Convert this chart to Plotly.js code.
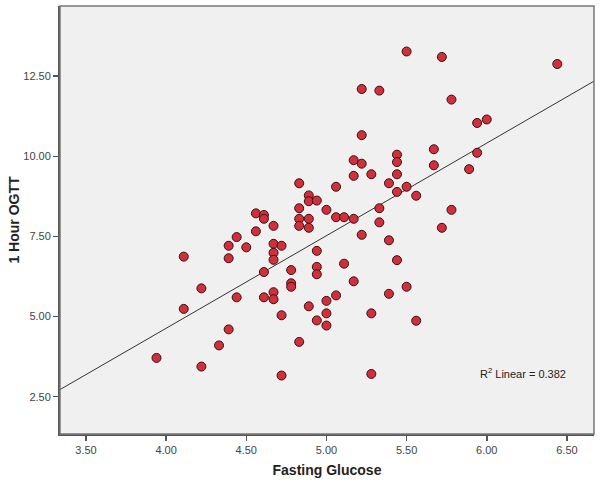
<!DOCTYPE html>
<html>
<head>
<meta charset="utf-8">
<script src="https://cdn.plot.ly/plotly-3.0.1.min.js"></script>
<style>html,body{margin:0;padding:0;background:#fff;}#chart{width:600px;height:486px;}</style>
</head>
<body>
<div id="chart"></div>
<script>
// Fasting glucose (mmol/L)
const fastingGlucose = [
  3.94, 4.11, 4.11, 4.22, 4.22, 4.33, 4.39, 4.39, 4.39, 4.44,
  4.44, 4.50, 4.56, 4.56, 4.61, 4.61, 4.61, 4.61, 4.67, 4.67,
  4.67, 4.67, 4.67, 4.67, 4.72, 4.72, 4.72, 4.78, 4.78, 4.78,
  4.83, 4.83, 4.83, 4.83, 4.83, 4.89, 4.89, 4.89, 4.89, 4.89,
  4.94, 4.94, 4.94, 4.94, 4.94, 5.00, 5.00, 5.00, 5.00, 5.06,
  5.06, 5.06, 5.11, 5.11, 5.17, 5.17, 5.17, 5.17, 5.22, 5.22,
  5.22, 5.22, 5.28, 5.28, 5.28, 5.33, 5.33, 5.33, 5.39, 5.39,
  5.39, 5.44, 5.44, 5.44, 5.44, 5.44, 5.50, 5.50, 5.50, 5.56,
  5.56, 5.67, 5.67, 5.72, 5.72, 5.78, 5.78, 5.89, 5.94, 5.94,
  6.00, 6.44
];
// 1 hour OGTT (mmol/L)
const ogtt1h = [
  3.71, 6.87, 5.24, 5.88, 3.44, 4.10, 4.60, 7.21, 6.82, 7.48,
  5.60, 7.16, 8.22, 7.66, 8.17, 8.05, 6.39, 5.60, 7.83, 7.27,
  6.99, 6.77, 5.76, 5.54, 7.21, 5.04, 3.16, 6.45, 6.04, 5.93,
  9.16, 8.38, 8.05, 7.83, 4.21, 8.78, 8.60, 8.05, 7.77, 5.32,
  8.62, 7.05, 6.55, 6.32, 4.88, 8.33, 5.49, 5.10, 4.72, 9.05,
  8.10, 5.66, 8.10, 6.65, 9.88, 9.39, 8.05, 6.10, 12.10, 10.66,
  9.77, 7.55, 9.44, 5.10, 3.21, 12.05, 8.38, 7.94, 9.16, 7.38,
  5.71, 10.05, 9.82, 9.44, 8.89, 6.76, 13.27, 9.05, 5.93, 8.77,
  4.87, 10.22, 9.72, 13.10, 7.77, 8.33, 11.77, 9.60, 11.04, 10.11,
  11.15, 12.88
];
const xTickVals = [3.5, 4.0, 4.5, 5.0, 5.5, 6.0, 6.5];
const yTickVals = [2.5, 5.0, 7.5, 10.0, 12.5];
const xTitle = "Fasting Glucose";
const yTitle = "1 Hour OGTT";
const rsqLabel = "R<sup>2</sup> Linear = 0.382";

const xRange = [3.338, 6.669];
const yRange = [1.336, 14.69];

// least-squares fit line computed from the data
const n = fastingGlucose.length;
const mx = fastingGlucose.reduce((a, b) => a + b, 0) / n;
const my = ogtt1h.reduce((a, b) => a + b, 0) / n;
let sxy = 0, sxx = 0;
for (let i = 0; i < n; i++) {
  sxy += (fastingGlucose[i] - mx) * (ogtt1h[i] - my);
  sxx += (fastingGlucose[i] - mx) ** 2;
}
const slope = sxy / sxx;
const intercept = my - slope * mx;
const fitX = [xRange[0], xRange[1]];
const fitY = fitX.map(v => intercept + slope * v);

const traces = [
  {
    x: fitX, y: fitY, mode: 'lines', type: 'scatter',
    line: {color: '#333333', width: 1}, hoverinfo: 'skip', cliponaxis: true
  },
  {
    x: fastingGlucose, y: ogtt1h, mode: 'markers', type: 'scatter',
    marker: {size: 9, color: '#d0303c', line: {color: '#3a1010', width: 1}}
  }
];

const layout = {
  width: 600, height: 486,
  margin: {l: 60, r: 6, t: 6, b: 52},
  paper_bgcolor: '#ffffff',
  plot_bgcolor: '#f0f0f0',
  showlegend: false,
  font: {family: 'Liberation Sans, Arial, sans-serif', color: '#333333', size: 11},
  xaxis: {
    range: xRange, tickvals: xTickVals, tickformat: '.2f',
    showgrid: false, zeroline: false,
    showline: true, linecolor: '#555555', linewidth: 2, mirror: false,
    ticks: 'outside', ticklen: 5, tickwidth: 1.5, tickcolor: '#555555',
    tickfont: {size: 11, color: '#444444'},
    title: {text: xTitle, font: {size: 14, color: '#222222', weight: 'bold'}, standoff: 10}
  },
  yaxis: {
    range: yRange, tickvals: yTickVals, tickformat: '.2f',
    showgrid: false, zeroline: false,
    showline: true, linecolor: '#555555', linewidth: 2,
    ticks: 'outside', ticklen: 5, tickwidth: 1.5, tickcolor: '#555555',
    tickfont: {size: 11, color: '#444444'},
    title: {text: yTitle, font: {size: 14, color: '#222222', weight: 'bold'}, standoff: 0}
  },
  shapes: [
    {type: 'rect', xref: 'paper', yref: 'paper', x0: 0, x1: 1, y0: 0, y1: 1,
     line: {color: '#777777', width: 1.5}, fillcolor: 'rgba(0,0,0,0)', layer: 'above'}
  ],
  annotations: [
    {text: rsqLabel, xref: 'paper', yref: 'paper', x: 0.952, y: 0.142,
     xanchor: 'right', yanchor: 'middle', showarrow: false,
     font: {size: 11, color: '#222222'}}
  ]
};

Plotly.newPlot('chart', traces, layout, {displayModeBar: false, staticPlot: true});
</script>
</body>
</html>
